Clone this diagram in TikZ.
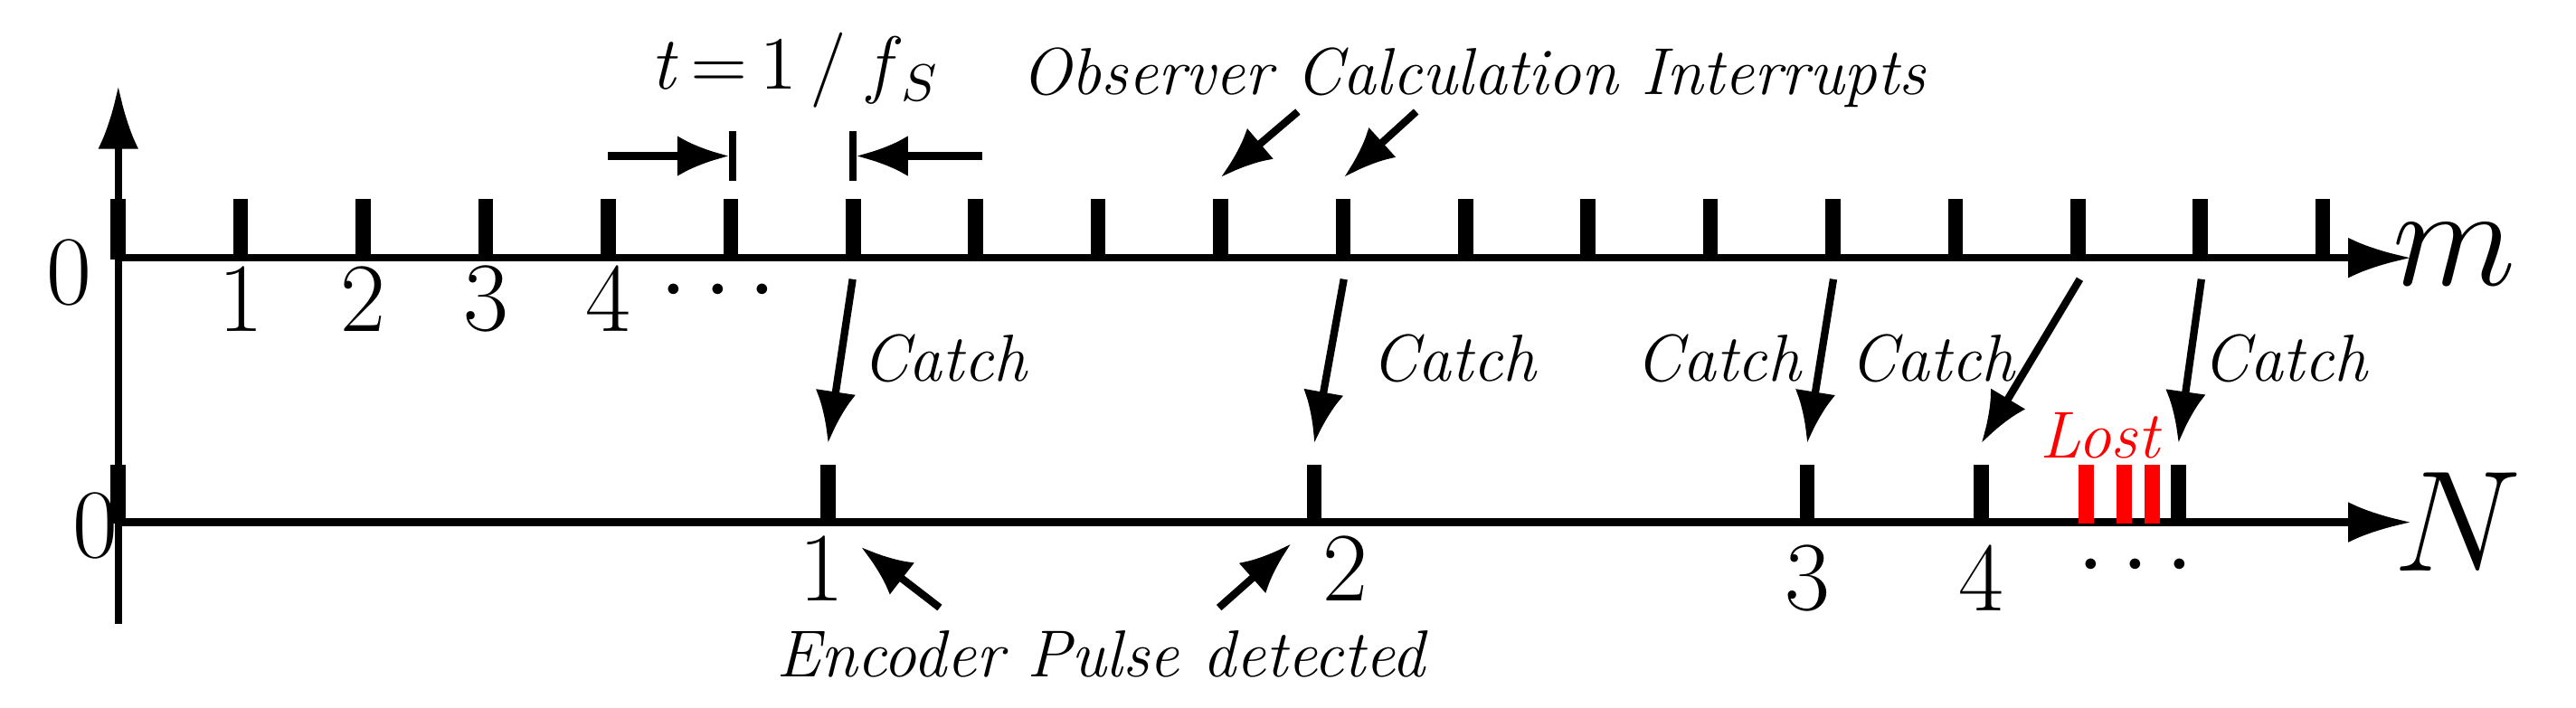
\documentclass[tikz,border=0pt]{standalone}
\usetikzlibrary{arrows.meta,positioning}

\begin{document}
\begin{tikzpicture}
    [
      x=0.01cm, y=-0.01cm,
      axis/.style={-{Latex[length=11pt,width=7pt]},line width=1.3pt},
      tick/.style={line width=2.6pt},
      lost/.style={line width=2.6pt,red},
      post/.style={-{Latex[length=9pt,width=7pt]},line width=1.3pt},
      num/.style={font=\fontsize{17}{17}\selectfont},
      note/.style={font=\fontsize{11.5}{12}\selectfont\itshape},
    ]
    \useasboundingbox (0,0) rectangle (1568,431);

    % axes
    \coordinate (origin-v) at (72,380);
    \coordinate (top-v) at (72,52);
    \draw [axis] (origin-v) -- (top-v);
    \coordinate (m-start) at (72,157);
    \coordinate (m-end) at (1468,157);
    \draw [axis] (m-start) -- (m-end);
    \coordinate (n-start) at (72,318);
    \coordinate (n-end) at (1468,318);
    \draw [axis] (n-start) -- (n-end);
    \node (m-label) at (1494,155) {\fontsize{30}{30}\selectfont$m$};
    \node (n-label) at (1496,318) {\fontsize{24}{24}\selectfont$N$};

    % observer ticks
    \foreach \i in {0,...,18}
      \draw [tick] (72+74.55*\i,121) -- (72+74.55*\i,158);
    \node (m0) [num] at (42,166) {0};
    \foreach \i in {1,...,4}
      \node (m\i) [num] at (72+74.55*\i,182) {\i};
    \node (m-dots) [num] at (437,178) {$\cdots$};

    % encoder ticks
    \foreach \x/\n in {72/p0,504/p1,800/p2,1100/p3,1206/p4,1326/p5}
      \draw [tick] (\x,283) coordinate (\n) -- (\x,319);
    \foreach \x in {1270,1293,1310}
      \draw [lost] (\x,283) -- (\x,319);
    \node (n0) [num] at (58,320) {0};
    \node (n1) [num] at (500,346) {1};
    \node (n2) [num] at (819,346) {2};
    \node (n3) [num] at (1100,352) {3};
    \node (n4) [num] at (1206,352) {4};
    \node (n-dots) [num] at (1300,345) {$\cdots$};
    \node (lost-label) [note,red] at (1278,265) {Lost};

    % catches
    \foreach \a/\b in {519/504,818/800,1116/1100,1266/1206,1340/1326}
      \draw [post] (\a,170) -- (\b,270);
    \foreach \lx in {575,885,1046,1176,1391}
      \node [note] at (\lx,218) {Catch};

    % labels above
    \node (interrupts) [note] at (897,47) {Observer Calculation Interrupts};
    \coordinate (i1) at (743,108);
    \coordinate (i2) at (818,108);
    \draw [post] (790,68) -- (i1);
    \draw [post] (862,68) -- (i2);

    \node (period) [font=\fontsize{13}{13}\selectfont] at (484,43) {\textit{t}\,=\,1\,/\;\textit{f}$_S$};
    \draw [line width=1.3pt] (446,80) -- (446,110);
    \draw [line width=1.3pt] (519,80) -- (519,110);
    \coordinate (bar-l) at (444,95);
    \coordinate (bar-r) at (521,95);
    \draw [post] (370,95) -- (bar-l);
    \draw [post] (598,95) -- (bar-r);

    \node (encoder) [note] at (670,398) {Encoder Pulse detected};
    \coordinate (e1) at (524,333);
    \coordinate (e2) at (786,331);
    \draw [post] (572,370) -- (e1);
    \draw [post] (742,370) -- (e2);
\end{tikzpicture}
\end{document}
